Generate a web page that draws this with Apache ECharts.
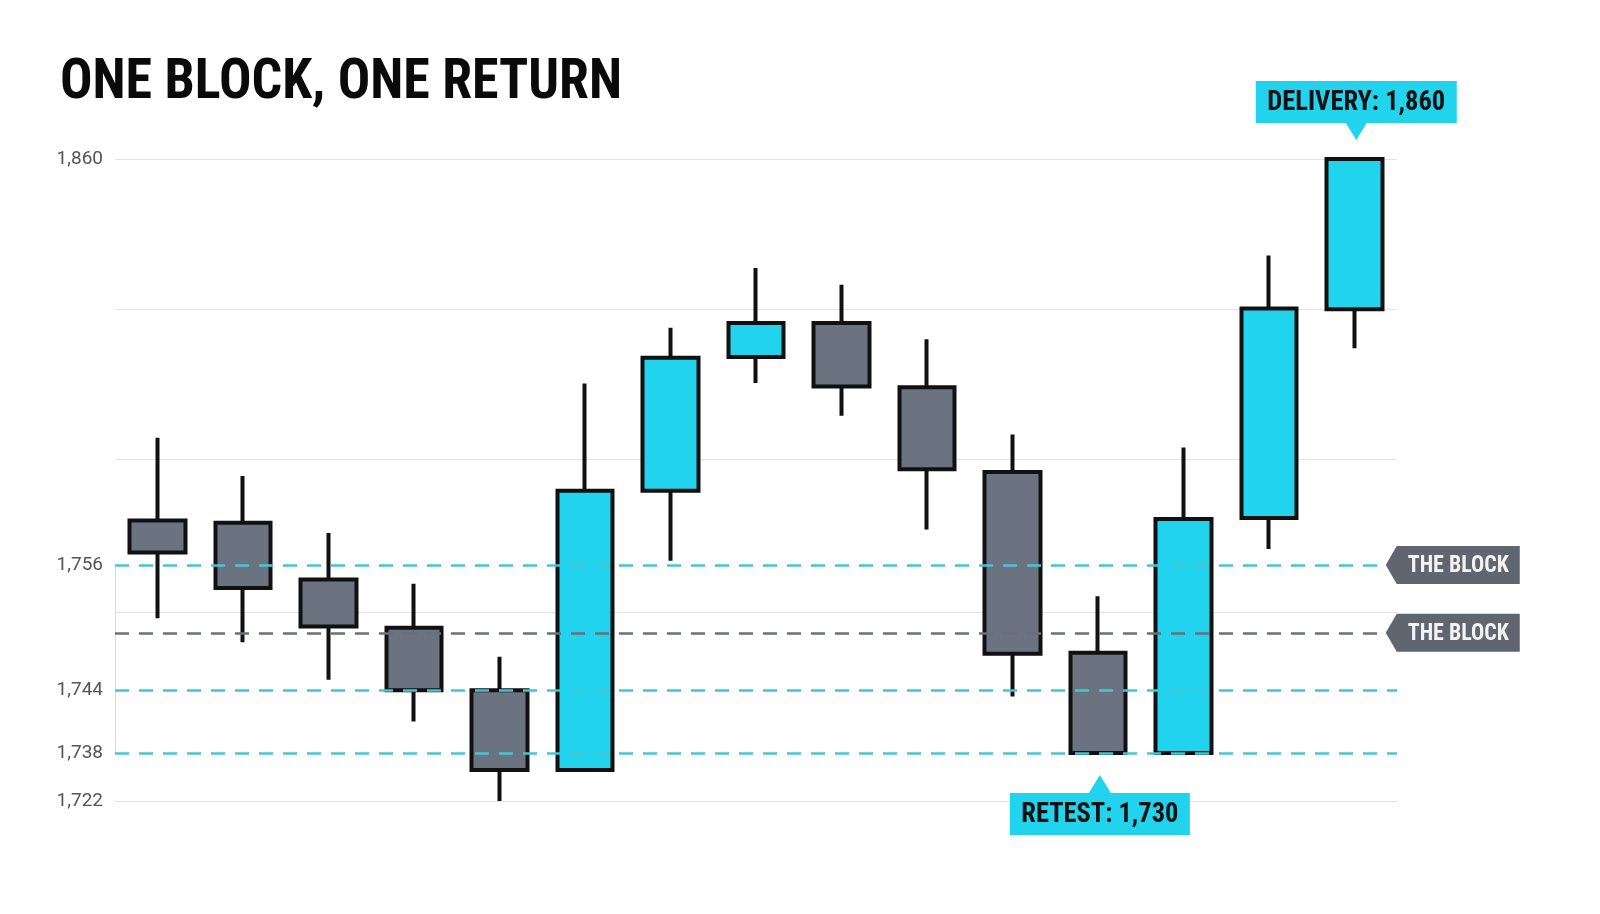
<!DOCTYPE html>
<html>
<head>
<meta charset="utf-8">
<script src="https://cdn.jsdelivr.net/npm/echarts@6/dist/echarts.min.js"></script>
<style>
html,body{margin:0;padding:0;background:#ffffff;}
#chart{width:1600px;height:914px;}
</style>
</head>
<body>
<div id="chart"></div>
<script>
// ---- data ----
const titleText = 'ONE BLOCK, ONE RETURN';
const categories = ['1','2','3','4','5','6','7','8','9','10','11','12','13','14','15'];
// each candle: [open, close, low, high]
const candles = [
  [1767.4, 1759.2, 1750.9, 1788.6],
  [1766.8, 1753.8, 1748.6, 1778.8],
  [1754.6, 1750.1, 1745.0, 1764.2],
  [1750.0, 1744.0, 1741.0, 1754.2],
  [1744.0, 1732.3, 1722.0, 1747.2],
  [1732.3, 1775.0, 1732.3, 1802.5],
  [1775.0, 1809.1, 1757.1, 1816.8],
  [1809.3, 1818.0, 1802.6, 1832.1],
  [1818.0, 1801.7, 1794.2, 1827.8],
  [1801.5, 1780.5, 1765.1, 1813.8],
  [1779.8, 1747.5, 1743.4, 1789.4],
  [1747.6, 1738.0, 1738.0, 1753.0],
  [1738.0, 1767.8, 1738.0, 1786.1],
  [1768.0, 1821.7, 1760.1, 1835.3],
  [1821.5, 1860.0, 1811.5, 1860.0]
];
const yLabelValues = [1722, 1738, 1744, 1756, 1860];
const gridValues = [1722, 1751.5, 1783.2, 1821.6, 1860];
const blockLevels = [1756, 1744, 1738];
const blockMidLevel = 1749.5;
const blockLabel = 'THE BLOCK';
const deliveryValue = 1860;
const deliveryIndex = 14;
const retestValue = 1730;
const retestIndex = 11;
const axisMin = 1722, axisMax = 1860;

// ---- styles ----
const CYAN = '#22d3ee';
const GRAY = '#6b7280';
const INK = '#111111';
const fmt = v => Number(v).toLocaleString('en-US');

// pick the narrowest installed condensed family
const mctx = document.createElement('canvas').getContext('2d');
function measure(font, text) { mctx.font = font; return mctx.measureText(text).width; }
function hasFamily(fam) {
  const t = 'ONE BLOCK, ONE RETURN 1,860';
  return measure('bold 40px monospace', t) !== measure('bold 40px "' + fam + '", monospace', t) ||
         measure('bold 40px serif', t) !== measure('bold 40px "' + fam + '", serif', t);
}
const condFamily = ['Noto Sans ExtraCondensed', 'Noto Sans Condensed', 'Roboto Condensed',
  'Liberation Sans Narrow', 'DejaVu Sans Condensed'].find(hasFamily) || 'DejaVu Sans Condensed';
const COND = '"' + condFamily + '", sans-serif';
function fitScale(font, text, target) { return Math.min(1, target / measure(font, text)); }

const chart = echarts.init(document.getElementById('chart'), null, {renderer: 'canvas'});

const option = {
  animation: false,
  backgroundColor: '#ffffff',
  grid: {left: 115, right: 203, top: 159, bottom: 113},
  xAxis: {
    type: 'category',
    data: categories,
    boundaryGap: true,
    axisLine: {show: true, lineStyle: {color: '#e2e2e2', width: 1}},
    axisTick: {show: false},
    axisLabel: {show: false},
    splitLine: {show: false}
  },
  yAxis: {
    type: 'value',
    min: axisMin,
    max: axisMax,
    scale: true,
    breaks: [
      {start: 1722, end: 1738, gap: 4.6},
      {start: 1756, end: 1860, gap: 38.87}
    ],
    breakArea: {show: false, itemStyle: {opacity: 0, borderWidth: 0}, zigzagAmplitude: 0, expandOnClick: false},
    axisLine: {show: true, lineStyle: {color: '#d9d9d9', width: 1}},
    axisTick: {show: false, customValues: gridValues},
    splitLine: {show: true, lineStyle: {color: '#e3e3e3', width: 1.2}},
    axisLabel: {
      customValues: yLabelValues,
      formatter: v => fmt(v),
      color: '#555555',
      fontSize: 19,
      fontFamily: 'Roboto, "Noto Sans", sans-serif',
      margin: 12
    }
  },
  series: [
    {
      type: 'line',
      data: [],
      z: 1,
      silent: true,
      markLine: {
        silent: true,
        symbol: 'none',
        animation: false,
        label: {show: false},
        emphasis: {disabled: true},
        data: blockLevels.map(v => ({
          yAxis: v,
          lineStyle: {color: '#45c5d5', width: 2.5, type: [14, 10]}
        })).concat([{
          yAxis: blockMidLevel,
          lineStyle: {color: '#6a6f78', width: 2.5, type: [14, 10]}
        }])
      }
    },
    {
      type: 'candlestick',
      z: 3,
      data: candles,
      barWidth: 56,
      itemStyle: {
        color: CYAN,
        color0: GRAY,
        borderColor: INK,
        borderColor0: INK,
        borderWidth: 4
      },
      emphasis: {disabled: true},
      markPoint: {
        animation: false,
        silent: true,
        label: {show: false},
        data: [
          {
            coord: [deliveryIndex, deliveryValue],
            symbol: 'path://M0,0 H201 V42 H111 L100.5,59 L90,42 H0 Z',
            symbolSize: [201, 59],
            symbolOffset: [2, -48.5],
            itemStyle: {color: CYAN}
          },
          {
            coord: [retestIndex, retestValue],
            symbol: 'path://M90,0 L101,18 H180 V60 H0 V18 H79 Z',
            symbolSize: [180, 60],
            symbolOffset: [2, 28],
            itemStyle: {color: CYAN}
          },
          {
            coord: [deliveryIndex, blockLevels[0]],
            symbol: 'path://M0,19 L11,0 H134 V38 H11 Z',
            symbolSize: [134, 38],
            symbolOffset: [98.5, 0],
            itemStyle: {color: '#5f6670'}
          },
          {
            coord: [deliveryIndex, blockMidLevel],
            symbol: 'path://M0,19 L11,0 H134 V38 H11 Z',
            symbolSize: [134, 38],
            symbolOffset: [98.5, 0],
            itemStyle: {color: '#5f6670'}
          }
        ]
      }
    }
  ]
};
chart.setOption(option);

// ---- texts placed through the chart's own scales ----
const px = (i, v) => chart.convertToPixel({gridIndex: 0}, [i, v]);
function textEl(text, x, y, size, color, targetW, align) {
  const font = 'bold ' + size + 'px ' + COND;
  return {
    type: 'text', x: x, y: y, z: 100,
    scaleX: fitScale(font, text, targetW), silent: true,
    style: {
      text: text, font: font, fill: color,
      align: align || 'center', verticalAlign: 'middle',
      textAlign: align || 'center', textVerticalAlign: 'middle'
    }
  };
}
const pD = px(deliveryIndex, deliveryValue);
const pR = px(retestIndex, retestValue);
const pB1 = px(deliveryIndex, blockLevels[0]);
const pB2 = px(deliveryIndex, blockMidLevel);
chart.setOption({
  graphic: [
    textEl(titleText, 60, 84, 55, '#0a0a0a', 562, 'left'),
    textEl('DELIVERY: ' + fmt(deliveryValue), pD[0] + 2, pD[1] - 56, 27, INK, 178),
    textEl('RETEST: ' + fmt(retestValue), pR[0] + 2, pR[1] + 38, 27, INK, 157),
    textEl(blockLabel, pB1[0] + 104, pB1[1] + 1, 24, '#f3f3f3', 101),
    textEl(blockLabel, pB2[0] + 104, pB2[1] + 1, 24, '#f3f3f3', 101)
  ]
});
</script>
</body>
</html>
